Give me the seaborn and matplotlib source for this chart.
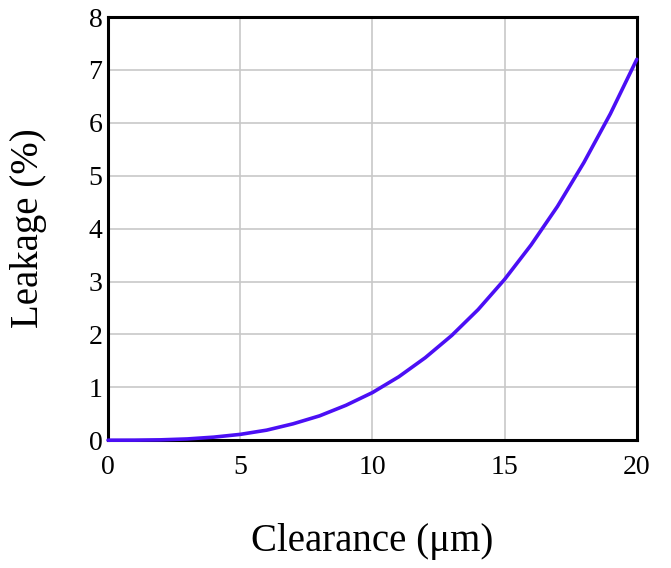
import numpy as np
import pandas as pd
import matplotlib
matplotlib.use("Agg")
import matplotlib.pyplot as plt
import seaborn as sns

# Values
clearance = [0, 1, 2, 3, 4, 5, 6, 7, 8, 9, 10, 11, 12, 13, 14, 15, 16, 17, 18, 19, 20]
leakage = [0.0, 0.001, 0.007, 0.024, 0.058, 0.11, 0.19, 0.31, 0.46, 0.66, 0.90,
           1.20, 1.56, 1.98, 2.47, 3.04, 3.69, 4.42, 5.25, 6.17, 7.20]
x_ticks = [0, 5, 10, 15, 20]
y_ticks = [0, 1, 2, 3, 4, 5, 6, 7, 8]

df = pd.DataFrame({"Clearance": clearance, "Leakage": leakage})

sns.set_theme(style="whitegrid")
plt.rcParams['font.family'] = ['Liberation Serif', 'DejaVu Serif']
plt.rcParams['text.color'] = 'black'
plt.rcParams['axes.labelcolor'] = 'black'
plt.rcParams['xtick.color'] = 'black'
plt.rcParams['ytick.color'] = 'black'

fig, ax = plt.subplots(figsize=(6.71, 5.68), dpi=100)
fig.subplots_adjust(left=0.161, right=0.949, top=0.970, bottom=0.225)

sns.lineplot(data=df, x="Clearance", y="Leakage", ax=ax, color="#4b0ff5",
             linewidth=2.6, zorder=5, clip_on=False)

ax.set_xlim(0, 20)
ax.set_ylim(0, 8)
ax.set_xticks(x_ticks)
ax.set_yticks(y_ticks)
ax.tick_params(axis='both', labelsize=20, length=0)
ax.tick_params(axis='x', pad=11)
ax.tick_params(axis='y', pad=4)
ax.grid(True, color="#c8c8c8", linewidth=1.2)
for s in ax.spines.values():
    s.set_color("black")
    s.set_linewidth(2.2)

ax.set_xlabel("Clearance (\u03bcm)", fontsize=28)
ax.set_ylabel("Leakage (%)", fontsize=28)
ax.xaxis.set_label_coords(0.5, -0.195)
ax.yaxis.set_label_coords(-0.115, 0.5)

fig.savefig("out.png", dpi=100, facecolor="white")
